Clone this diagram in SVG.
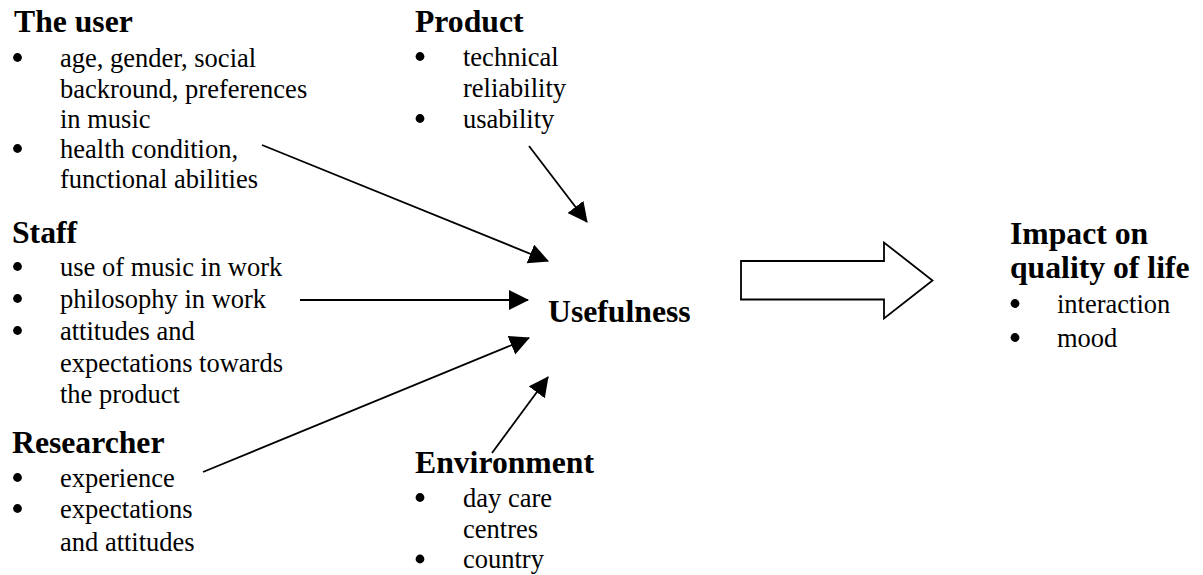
<svg xmlns="http://www.w3.org/2000/svg" width="1203" height="575" viewBox="0 0 1203 575">
<defs>
<style>
text{font-family:"Liberation Serif","Times New Roman",serif;fill:#000}
.h{font-size:31.7px;font-weight:bold}
.b{font-size:26.5px}
.d{fill:#000}
.c{stroke:#000;stroke-width:1.8;fill:none}
</style>
<marker id="ah" markerWidth="20" markerHeight="22" refX="19" refY="10" orient="auto" markerUnits="userSpaceOnUse">
<path d="M0,0 L20,10 L0,20 Z" fill="#000"/>
</marker>
</defs>
<rect width="1203" height="575" fill="#fff"/>
<g id="user">
<text class="h" x="14" y="32">The user</text>
<circle class="d" cx="17.5" cy="57.5" r="4.4"/>
<text class="b" x="60" y="67">age, gender, social</text>
<text class="b" x="60" y="98">backround, preferences</text>
<text class="b" x="60" y="128">in music</text>
<circle class="d" cx="17.5" cy="148.5" r="4.4"/>
<text class="b" x="60" y="158">health condition,</text>
<text class="b" x="60" y="188">functional abilities</text>
</g>
<g id="staff">
<text class="h" x="12" y="243">Staff</text>
<circle class="d" cx="17.5" cy="266.5" r="4.4"/>
<text class="b" x="60" y="276">use of music in work</text>
<circle class="d" cx="17.5" cy="298.5" r="4.4"/>
<text class="b" x="60" y="308">philosophy in work</text>
<circle class="d" cx="17.5" cy="330.5" r="4.4"/>
<text class="b" x="60" y="340">attitudes and</text>
<text class="b" x="60" y="372">expectations towards</text>
<text class="b" x="60" y="403">the product</text>
</g>
<g id="researcher">
<text class="h" x="12" y="453">Researcher</text>
<circle class="d" cx="17.5" cy="477.5" r="4.4"/>
<text class="b" x="60" y="487">experience</text>
<circle class="d" cx="17.5" cy="508.5" r="4.4"/>
<text class="b" x="60" y="518">expectations</text>
<text class="b" x="60" y="551">and attitudes</text>
</g>
<g id="product">
<text class="h" x="415" y="32">Product</text>
<circle class="d" cx="420" cy="56.5" r="4.4"/>
<text class="b" x="463" y="66">technical</text>
<text class="b" x="463" y="97">reliability</text>
<circle class="d" cx="420" cy="118.5" r="4.4"/>
<text class="b" x="463" y="128">usability</text>
</g>
<g id="usefulness">
<text class="h" x="548" y="322">Usefulness</text>
</g>
<g id="environment">
<text class="h" x="415" y="473">Environment</text>
<circle class="d" cx="420" cy="497.5" r="4.4"/>
<text class="b" x="463" y="507">day care</text>
<text class="b" x="463" y="538">centres</text>
<circle class="d" cx="420" cy="559" r="4.4"/>
<text class="b" x="463" y="568">country</text>
</g>
<g id="impact">
<text class="h" x="1010" y="244">Impact on</text>
<text class="h" x="1010" y="278">quality of life</text>
<circle class="d" cx="1015" cy="303.5" r="4.4"/>
<text class="b" x="1057" y="313">interaction</text>
<circle class="d" cx="1015" cy="337.5" r="4.4"/>
<text class="b" x="1057" y="347">mood</text>
</g>
<g id="connectors">
<line class="c" x1="262" y1="145" x2="548" y2="261" marker-end="url(#ah)"/>
<line class="c" x1="300" y1="300" x2="528" y2="300" marker-end="url(#ah)"/>
<line class="c" x1="203" y1="472" x2="529" y2="338" marker-end="url(#ah)"/>
<line class="c" x1="529" y1="146" x2="587" y2="222" marker-end="url(#ah)"/>
<line class="c" x1="492" y1="453" x2="548" y2="377" marker-end="url(#ah)"/>
<path class="c" stroke-width="1.5" d="M741,261 H884 V242.5 L932.5,280.5 L884,318.5 V299.5 H741 Z" fill="#fff"/>
</g>
</svg>
